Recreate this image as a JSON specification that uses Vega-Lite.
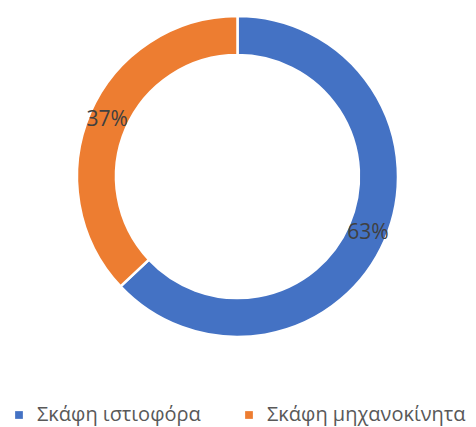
{
  "$schema": "https://vega.github.io/schema/vega-lite/v6.json",
  "autosize": {"type": "none"},
  "width": 475,
  "height": 353,
  "padding": {"top": 0, "left": 0, "right": 1, "bottom": 74},
  "background": "white",
  "data": {
    "values": [
      {"category": "Σκάφη ιστιοφόρα", "value": 63, "label": "63%"},
      {"category": "Σκάφη μηχανοκίνητα", "value": 37, "label": "37%"}
    ]
  },
  "encoding": {
    "theta": {"field": "value", "type": "quantitative", "stack": true},
    "order": {"field": "value", "type": "quantitative", "sort": "descending"},
    "color": {
      "field": "category",
      "type": "nominal",
      "scale": {"domain": ["Σκάφη ιστιοφόρα", "Σκάφη μηχανοκίνητα"], "range": ["#4472C4", "#ED7D31"]},
      "legend": {
        "title": null,
        "orient": "none",
        "legendX": 9,
        "legendY": 405,
        "direction": "horizontal",
        "symbolType": "square",
        "symbolSize": 60,
        "symbolStrokeWidth": 0,
        "labelFont": "Open Sans",
        "labelFontSize": 20,
        "labelColor": "#595959",
        "labelLimit": 400,
        "labelOffset": 8,
        "columnPadding": 38
      }
    }
  },
  "layer": [
    {
      "mark": {"type": "arc", "outerRadius": 160.5, "innerRadius": 121.5, "stroke": "white", "strokeWidth": 2.5}
    },
    {
      "mark": {"type": "text", "radius": 142, "font": "Open Sans", "fontSize": 21, "align": "center", "baseline": "middle"},
      "encoding": {
        "text": {"field": "label"},
        "detail": {"field": "category"},
        "color": {"value": "#404040"}
      }
    }
  ]
}
